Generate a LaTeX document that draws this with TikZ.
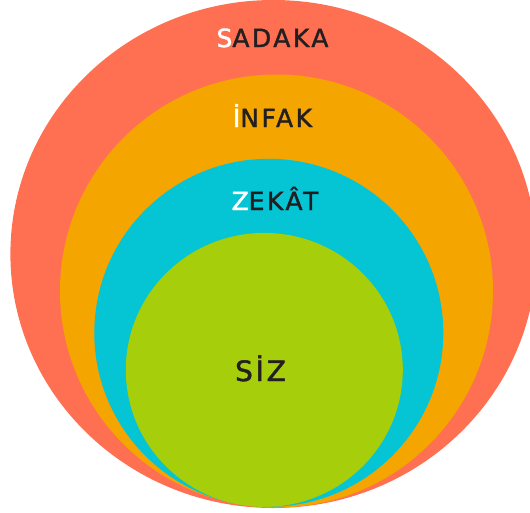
\documentclass[tikz,border=0pt]{standalone}
\usepackage{fontspec}
\newfontfamily\handfont[LetterSpace=10,FakeBold=1.6]{DejaVu Sans}
\usetikzlibrary{shapes.geometric}
\definecolor{sadakared}{HTML}{FF7052}
\definecolor{infakorange}{HTML}{F5A500}
\definecolor{zekatcyan}{HTML}{05C4D4}
\definecolor{sizgreen}{HTML}{A6CE0A}
\definecolor{inkdark}{HTML}{231F20}
\begin{document}
\begin{tikzpicture}[x=1pt, y=-1pt,
  ring/.style={ellipse, inner sep=0, draw=none},
  lbl/.style={anchor=base, inner sep=0, text=inkdark, font=\handfont\fontsize{25}{25}\selectfont}]
\useasboundingbox (0,0) rectangle (530,512);
\clip (0,0) rectangle (530,512);
\node[ring, fill=sadakared, minimum width=526, minimum height=508] (sadaka) at (273.4,254){};
\node[ring, fill=infakorange, minimum width=433, minimum height=433] (infak) at (276.5,291){};
\node[ring, fill=zekatcyan, minimum width=349, minimum height=348] (zekat) at (268.8,332.8){};
\node[ring, fill=sizgreen, minimum width=277, minimum height=274] (siz) at (264.3,369.9){};
\node[lbl] (sadakatext) at (272.5,47){\textcolor{white}{S}ADAKA};
\node[lbl] (infaktext) at (272.5,127){\textcolor{white}{İ}NFAK};
\node[lbl] (zekattext) at (275,210){\textcolor{white}{Z}EKÂT};
\node[lbl, font=\handfont\fontsize{28}{28}\selectfont] (siztext) at (260.5,381){SİZ};
\end{tikzpicture}
\end{document}
